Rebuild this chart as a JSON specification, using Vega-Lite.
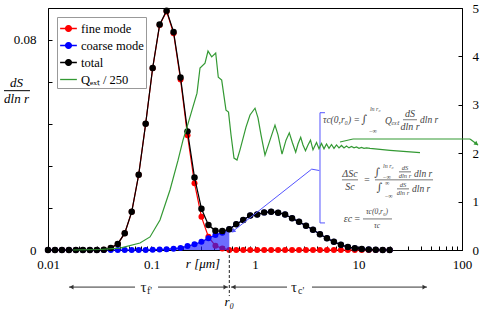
{
"$schema": "https://vega.github.io/schema/vega-lite/v6.json",
"width": 414, "height": 242,
"autosize": {"type": "none"},
"padding": {"left": 48, "top": 8, "right": 38, "bottom": 63},
"background": "white",
"config": {
  "view": {"stroke": "black", "strokeWidth": 1},
  "font": "Liberation Serif",
  "axis": {"labelFont": "Liberation Serif", "labelFontSize": 13, "labelColor": "black", "domainColor": "black", "tickColor": "black", "grid": false, "titleFont": "Liberation Serif", "labelFlush": false}
},
"datasets": {
  "psd": [
    {"r":0.01,"fine":0,"coarse":0,"total":0},
    {"r":0.01168,"fine":0,"coarse":0,"total":0},
    {"r":0.01364,"fine":0,"coarse":0,"total":0},
    {"r":0.01593,"fine":0,"coarse":0,"total":0},
    {"r":0.0186,"fine":0,"coarse":0,"total":0},
    {"r":0.02173,"fine":0,"coarse":0,"total":0},
    {"r":0.02537,"fine":0,"coarse":0,"total":0},
    {"r":0.02963,"fine":0,"coarse":0,"total":0},
    {"r":0.03461,"fine":0.0001,"coarse":0,"total":0.0001},
    {"r":0.04042,"fine":0.0008,"coarse":0,"total":0.0008},
    {"r":0.04721,"fine":0.0023,"coarse":0,"total":0.0023},
    {"r":0.05513,"fine":0.0064,"coarse":0,"total":0.0064},
    {"r":0.06439,"fine":0.0145,"coarse":0,"total":0.0145},
    {"r":0.0752,"fine":0.0286,"coarse":0,"total":0.0286},
    {"r":0.08782,"fine":0.048,"coarse":0,"total":0.048},
    {"r":0.1026,"fine":0.0691,"coarse":0.0001,"total":0.0692},
    {"r":0.1198,"fine":0.0855,"coarse":0.0002,"total":0.0857},
    {"r":0.1399,"fine":0.0907,"coarse":0.0003,"total":0.091},
    {"r":0.1634,"fine":0.0824,"coarse":0.0005,"total":0.0829},
    {"r":0.1908,"fine":0.0648,"coarse":0.0008,"total":0.0656},
    {"r":0.2228,"fine":0.0436,"coarse":0.0015,"total":0.0451},
    {"r":0.2603,"fine":0.0254,"coarse":0.0022,"total":0.0276},
    {"r":0.3039,"fine":0.0126,"coarse":0.0031,"total":0.0157},
    {"r":0.355,"fine":0.005,"coarse":0.0045,"total":0.0095},
    {"r":0.4146,"fine":0.0016,"coarse":0.0057,"total":0.0073},
    {"r":0.4832,"fine":0.0006,"coarse":0.0066,"total":0.0072},
    {"r":0.5645,"fine":0,"coarse":0.0079,"total":0.0079},
    {"r":0.6592,"fine":0,"coarse":0.0098,"total":0.0098},
    {"r":0.7699,"fine":0,"coarse":0.0114,"total":0.0114},
    {"r":0.8988,"fine":0,"coarse":0.0131,"total":0.0131},
    {"r":1.0497,"fine":0,"coarse":0.0135,"total":0.0135},
    {"r":1.226,"fine":0,"coarse":0.0143,"total":0.0143},
    {"r":1.432,"fine":0,"coarse":0.0145,"total":0.0145},
    {"r":1.672,"fine":0,"coarse":0.0142,"total":0.0142},
    {"r":1.953,"fine":0,"coarse":0.0135,"total":0.0135},
    {"r":2.281,"fine":0,"coarse":0.0121,"total":0.0121},
    {"r":2.663,"fine":0,"coarse":0.0107,"total":0.0107},
    {"r":3.111,"fine":0,"coarse":0.0092,"total":0.0092},
    {"r":3.633,"fine":0,"coarse":0.0077,"total":0.0077},
    {"r":4.242,"fine":0,"coarse":0.006,"total":0.006},
    {"r":4.955,"fine":0,"coarse":0.0045,"total":0.0045},
    {"r":5.786,"fine":0,"coarse":0.0031,"total":0.0031},
    {"r":6.758,"fine":0,"coarse":0.002,"total":0.002},
    {"r":7.892,"fine":0,"coarse":0.0011,"total":0.0011},
    {"r":9.217,"fine":0,"coarse":0.0007,"total":0.0007},
    {"r":10.75,"fine":0,"coarse":0.0004,"total":0.0004},
    {"r":12.56,"fine":0,"coarse":0.0002,"total":0.0002},
    {"r":14.67,"fine":0,"coarse":0.0001,"total":0.0001},
    {"r":17.13,"fine":0,"coarse":0,"total":0},
    {"r":20.0,"fine":0,"coarse":0,"total":0}
  ],
  "mie": [
    {"r":0.01744,"q":0},{"r":0.03179,"q":0.01},{"r":0.04963,"q":0.04},{"r":0.07743,"q":0.145},
    {"r":0.09671,"q":0.27},{"r":0.1208,"q":0.62},{"r":0.1509,"q":1.24},{"r":0.1803,"q":1.85},
    {"r":0.2015,"q":2.27},{"r":0.2203,"q":2.54},{"r":0.2462,"q":2.89},{"r":0.2752,"q":3.24},
    {"r":0.2942,"q":3.76},{"r":0.3288,"q":3.86},{"r":0.3515,"q":4.11},{"r":0.3816,"q":3.99},
    {"r":0.4172,"q":4.07},{"r":0.4419,"q":3.57},{"r":0.4767,"q":3.51},{"r":0.5246,"q":2.89},
    {"r":0.5546,"q":2.85},{"r":0.5862,"q":2.38},{"r":0.6267,"q":1.9},{"r":0.67,"q":1.86},
    {"r":0.7163,"q":2.07},{"r":0.8185,"q":2.54},{"r":0.8949,"q":2.79},{"r":1.0,"q":2.93},
    {"r":1.069,"q":2.73},{"r":1.143,"q":2.38},{"r":1.249,"q":1.96},{"r":1.396,"q":2.27},
    {"r":1.56,"q":2.58},{"r":1.668,"q":2.38},{"r":1.824,"q":1.98},{"r":1.993,"q":2.27},
    {"r":2.145,"q":2.42},{"r":2.303,"q":2.21},{"r":2.473,"q":2.02},{"r":2.603,"q":2.19},
    {"r":2.764,"q":2.33},{"r":2.909,"q":2.17},{"r":3.075,"q":2.05},{"r":3.251,"q":2.17},
    {"r":3.438,"q":2.27},{"r":3.634,"q":2.07},{"r":3.929,"q":2.22},{"r":4.154,"q":2.09},
    {"r":4.39,"q":2.2},{"r":4.642,"q":2.09},{"r":4.908,"q":2.19},{"r":5.188,"q":2.1},
    {"r":5.484,"q":2.18},{"r":5.798,"q":2.1},{"r":6.13,"q":2.17},{"r":6.479,"q":2.11},
    {"r":6.85,"q":2.16},{"r":7.242,"q":2.11},{"r":7.656,"q":2.15},{"r":8.094,"q":2.11},
    {"r":8.558,"q":2.14},{"r":9.047,"q":2.11},{"r":9.565,"q":2.13},{"r":10.11,"q":2.1},
    {"r":10.69,"q":2.12},{"r":11.3,"q":2.1},{"r":11.95,"q":2.11},{"r":12.92,"q":2.1},
    {"r":20.15,"q":2.06},{"r":39.29,"q":2.01}
  ]
},
"layer": [
  {"layer": [
    {"data": {"name": "psd"},
     "mark": {"type": "line", "strokeWidth": 1.2, "point": {"filled": true, "size": 36, "opacity": 1}},
     "encoding": {
       "x": {"field": "r", "type": "quantitative", "title": null,
             "scale": {"type": "log", "domain": [0.01, 100], "nice": false},
             "axis": {"values": [0.01,0.02,0.03,0.04,0.05,0.06,0.07,0.08,0.09,0.1,0.2,0.3,0.4,0.5,0.6,0.7,0.8,0.9,1,2,3,4,5,6,7,8,9,10,20,30,40,50,60,70,80,90,100],
                      "format": "~g",
                      "labelExpr": "abs(log(datum.value)/LN10 - round(log(datum.value)/LN10)) < 1e-6 ? datum.label : ''",
                      "tickSize": -4, "labelPadding": 12, "labelOverlap": false}},
       "y": {"field": "fine", "type": "quantitative", "title": null,
             "scale": {"domain": [0, 0.092], "nice": false, "zero": false},
             "axis": {"orient": "left", "values": [0,0.008,0.016,0.024,0.032,0.04,0.048,0.056,0.064,0.072,0.08,0.088],
                      "format": "~g",
                      "labelExpr": "abs(datum.value*25 - round(datum.value*25)) < 1e-6 ? datum.label : ''",
                      "tickSize": -4, "labelPadding": 16, "labelOverlap": false}},
       "color": {"datum": "fine mode", "type": "nominal",
                 "scale": {"domain": ["fine mode", "coarse mode", "total", "Qₑₓₜ / 250"], "range": ["#ff0000", "#0000ff", "#000000", "#339933"]},
                 "legend": {"title": null, "orient": "top-left", "offset": 9, "padding": 2, "rowPadding": 1,
                            "strokeColor": "#999999", "fillColor": "white",
                            "labelFont": "Liberation Serif", "labelFontSize": 12.5, "labelOffset": 3,
                            "symbolSize": 280, "symbolStrokeWidth": 1.3,
                            "encode": {"symbols": {"update": {
                              "shape": {"signal": "datum.index === 3 ? 'M-1,0H1' : 'M-1,0H1M-0.35,0A0.35,0.35,0,1,1,0.35,0A0.35,0.35,0,1,1,-0.35,0Z'"},
                              "fill": {"signal": "datum.index === 3 ? 'transparent' : scale('color', datum.value)"},
                              "stroke": {"signal": "scale('color', datum.value)"},
                              "strokeWidth": {"value": 1.3},
                              "opacity": {"value": 1}}}}}}
     }},
    {"data": {"name": "psd"},
     "transform": [{"filter": "datum.r <= 0.57"}],
     "mark": {"type": "area", "color": "#1f1fff", "opacity": 0.65},
     "encoding": {
       "x": {"field": "r", "type": "quantitative", "title": null},
       "y": {"field": "coarse", "type": "quantitative", "title": null, "stack": null}
     }},
    {"data": {"name": "psd"},
     "mark": {"type": "line", "strokeWidth": 1.2, "point": {"filled": true, "size": 36, "opacity": 1}},
     "encoding": {
       "x": {"field": "r", "type": "quantitative", "title": null},
       "y": {"field": "coarse", "type": "quantitative", "title": null},
       "color": {"datum": "coarse mode", "type": "nominal"}
     }},
    {"data": {"name": "psd"},
     "mark": {"type": "line", "strokeWidth": 1.2, "point": {"filled": true, "size": 42, "opacity": 1}},
     "encoding": {
       "x": {"field": "r", "type": "quantitative", "title": null},
       "y": {"field": "total", "type": "quantitative", "title": null},
       "color": {"datum": "total", "type": "nominal"}
     }},
    {"data": {"values": [
       {"r":0.01595,"r2":0.0693,"v":-0.0141},{"r":0.1156,"r2":0.5483,"v":-0.0141},
       {"r":0.5862,"r2":2.038,"v":-0.0141},{"r":3.554,"r2":45.9,"v":-0.0141}]},
     "mark": {"type": "rule", "color": "#333333", "strokeWidth": 1},
     "encoding": {"x": {"field": "r", "type": "quantitative", "title": null}, "x2": {"field": "r2"},
                  "y": {"field": "v", "type": "quantitative", "title": null}}},
    {"data": {"values": [{"r":0.01686,"v":-0.0141},{"r":0.6199,"v":-0.0141}]},
     "mark": {"type": "point", "shape": "triangle-left", "filled": true, "size": 22, "color": "#333333", "opacity": 1},
     "encoding": {"x": {"field": "r", "type": "quantitative", "title": null},
                  "y": {"field": "v", "type": "quantitative", "title": null}}},
    {"data": {"values": [{"r":0.5188,"v":-0.0141},{"r":43.42,"v":-0.0141}]},
     "mark": {"type": "point", "shape": "triangle-right", "filled": true, "size": 22, "color": "#333333", "opacity": 1},
     "encoding": {"x": {"field": "r", "type": "quantitative", "title": null},
                  "y": {"field": "v", "type": "quantitative", "title": null}}},
    {"data": {"values": [{"r":0.5645,"v":0,"v2":-0.0175}]},
     "mark": {"type": "rule", "color": "#222222", "strokeWidth": 1, "strokeDash": [3, 2]},
     "encoding": {"x": {"field": "r", "type": "quantitative", "title": null},
                  "y": {"field": "v", "type": "quantitative", "title": null}, "y2": {"field": "v2"}}},
    {"data": {"values": [{"r":0.08372,"v":-0.0141,"t":"τ"},{"r":2.381,"v":-0.0141,"t":"τ"}]},
     "mark": {"type": "text", "font": "Liberation Serif", "fontSize": 15, "align": "center", "baseline": "middle", "color": "#222222"},
     "encoding": {"x": {"field": "r", "type": "quantitative", "title": null},
                  "y": {"field": "v", "type": "quantitative", "title": null}, "text": {"field": "t"}}},
    {"data": {"values": [{"r":0.0905,"v":-0.0155,"t":"f'"},{"r":2.603,"v":-0.0155,"t":"c'"}]},
     "mark": {"type": "text", "font": "Liberation Serif", "fontSize": 10, "align": "left", "baseline": "middle", "color": "#222222"},
     "encoding": {"x": {"field": "r", "type": "quantitative", "title": null},
                  "y": {"field": "v", "type": "quantitative", "title": null}, "text": {"field": "t"}}},
    {"data": {"values": [{"r":0.3145,"v":-0.0053,"t":"r [μm]"},{"r":0.5645,"v":-0.0198,"t":"r₀"},
                          {"r":0.004962,"v":0.0636,"t":"dS"},{"r":0.004962,"v":0.0575,"t":"dln r"}]},
     "mark": {"type": "text", "font": "Liberation Serif", "fontSize": 13, "fontStyle": "italic", "align": "center", "baseline": "middle", "color": "black"},
     "encoding": {"x": {"field": "r", "type": "quantitative", "title": null},
                  "y": {"field": "v", "type": "quantitative", "title": null}, "text": {"field": "t"}}},
    {"data": {"values": [{"r":0.003757,"r2":0.0067,"v":0.06057}]},
     "mark": {"type": "rule", "color": "black", "strokeWidth": 1},
     "encoding": {"x": {"field": "r", "type": "quantitative", "title": null}, "x2": {"field": "r2"},
                  "y": {"field": "v", "type": "quantitative", "title": null}}},
    {"data": {"values": [
       {"r":0.5995,"v":0.006857,"r2":3.53,"v2":0.03074},{"r":3.53,"v":0.03074,"r2":4.181,"v2":0.03021},
       {"r":4.246,"v":0.05219,"r2":4.246,"v2":0.01029},{"r":4.246,"v":0.05219,"r2":4.746,"v2":0.05219},
       {"r":4.246,"v":0.01029,"r2":4.746,"v2":0.01029}]},
     "mark": {"type": "rule", "color": "#5555ff", "strokeWidth": 1},
     "encoding": {"x": {"field": "r", "type": "quantitative", "title": null}, "x2": {"field": "r2"},
                  "y": {"field": "v", "type": "quantitative", "title": null}, "y2": {"field": "v2"}}},
    {"data": {"values": [{"r":0.6224,"v":0.00731}]},
     "mark": {"type": "point", "shape": "triangle", "angle": 232, "filled": true, "size": 22, "color": "#5555ff", "opacity": 1},
     "encoding": {"x": {"field": "r", "type": "quantitative", "title": null},
                  "y": {"field": "v", "type": "quantitative", "title": null}}},
    {"data": {"values": [
       {"r":26.92,"r2":36.75,"v":0.04952},{"r":6.927,"r2":9.889,"v":0.02667},{"r":14.43,"r2":52.5,"v":0.02667},
       {"r":24.62,"r2":32.15,"v":0.02971},{"r":23.55,"r2":30.75,"v":0.02324},{"r":11.05,"r2":21.07,"v":0.01181}]},
     "mark": {"type": "rule", "color": "#555555", "strokeWidth": 0.8},
     "encoding": {"x": {"field": "r", "type": "quantitative", "title": null}, "x2": {"field": "r2"},
                  "y": {"field": "v", "type": "quantitative", "title": null}}},
    {"data": {"values": [{"r":4.54,"v":0.04952,"t":"τc(0,r₀) ="},{"r":18.03,"v":0.0491,"t":"Qₑₓₜ"},{"r":39.29,"v":0.04952,"t":"dln r"},
                          {"r":34.38,"v":0.02895,"t":"dln r"},{"r":32.88,"v":0.02324,"t":"dln r"}]},
     "mark": {"type": "text", "font": "Liberation Serif", "fontSize": 9.5, "fontStyle": "italic", "align": "left", "baseline": "middle", "color": "#444444"},
     "encoding": {"x": {"field": "r", "type": "quantitative", "title": null},
                  "y": {"field": "v", "type": "quantitative", "title": null}, "text": {"field": "t"}}},
    {"data": {"values": [{"r":31.45,"v":0.05181,"t":"dS"},{"r":31.45,"v":0.04686,"t":"dln r"},
                          {"r":8.277,"v":0.02895,"t":"ΔSc"},{"r":8.277,"v":0.024,"t":"Sc"},{"r":12.08,"v":0.02667,"t":"="},
                          {"r":7.915,"v":0.01181,"t":"εc"},{"r":9.672,"v":0.01181,"t":"="}]},
     "mark": {"type": "text", "font": "Liberation Serif", "fontSize": 10, "fontStyle": "italic", "align": "center", "baseline": "middle", "color": "#444444"},
     "encoding": {"x": {"field": "r", "type": "quantitative", "title": null},
                  "y": {"field": "v", "type": "quantitative", "title": null}, "text": {"field": "t"}}},
    {"data": {"values": [{"r":15.09,"v":0.01429,"t":"τc(0,r₀)"},{"r":15.09,"v":0.00914,"t":"τc"}]},
     "mark": {"type": "text", "font": "Liberation Serif", "fontSize": 7.5, "fontStyle": "italic", "align": "center", "baseline": "middle", "color": "#444444"},
     "encoding": {"x": {"field": "r", "type": "quantitative", "title": null},
                  "y": {"field": "v", "type": "quantitative", "title": null}, "text": {"field": "t"}}},
    {"data": {"values": [{"r":28.14,"v":0.03124,"t":"dS"},{"r":28.14,"v":0.02819,"t":"dln r"},
                          {"r":26.92,"v":0.02476,"t":"dS"},{"r":26.92,"v":0.02171,"t":"dln r"}]},
     "mark": {"type": "text", "font": "Liberation Serif", "fontSize": 6.5, "fontStyle": "italic", "align": "center", "baseline": "middle", "color": "#444444"},
     "encoding": {"x": {"field": "r", "type": "quantitative", "title": null},
                  "y": {"field": "v", "type": "quantitative", "title": null}, "text": {"field": "t"}}},
    {"data": {"values": [{"r":12.9,"v":0.0537,"t":"ln r₀"},{"r":12.5,"v":0.0453,"t":"−∞"},
                          {"r":17.25,"v":0.0319,"t":"ln r₀"},{"r":17.0,"v":0.0277,"t":"−∞"},
                          {"r":18.03,"v":0.0253,"t":"∞"},{"r":17.7,"v":0.0207,"t":"−∞"}]},
     "mark": {"type": "text", "font": "Liberation Serif", "fontSize": 6, "fontStyle": "italic", "align": "left", "baseline": "middle", "color": "#444444"},
     "encoding": {"x": {"field": "r", "type": "quantitative", "title": null},
                  "y": {"field": "v", "type": "quantitative", "title": null}, "text": {"field": "t"}}},
    {"data": {"values": [{"r":11.4,"v":0.04952,"t":"∫"},{"r":15.2,"v":0.02933,"t":"∫"},{"r":16.0,"v":0.02362,"t":"∫"}]},
     "mark": {"type": "text", "font": "DejaVu Serif", "fontSize": 11, "align": "center", "baseline": "middle", "color": "#444444"},
     "encoding": {"x": {"field": "r", "type": "quantitative", "title": null},
                  "y": {"field": "v", "type": "quantitative", "title": null}, "text": {"field": "t"}}}
  ]},
  {"layer": [
    {"data": {"name": "mie"},
     "mark": {"type": "line", "strokeWidth": 1.2},
     "encoding": {
       "x": {"field": "r", "type": "quantitative", "title": null},
       "y": {"field": "q", "type": "quantitative",
             "scale": {"domain": [0, 5], "nice": false},
             "axis": {"orient": "right", "values": [0,1,2,3,4,5], "tickSize": -4, "labelPadding": 14,
                      "title": "Mie kernal (Qₑₓₜ/250)", "titleColor": "#339933", "titleFontSize": 13,
                      "titleFont": "Liberation Serif", "titleFontWeight": "normal", "titleAngle": 270,
                      "titleX": 31, "titleY": 156, "titleAlign": "center", "titleBaseline": "middle"}},
       "color": {"datum": "Qₑₓₜ / 250", "type": "nominal"}
     }},
    {"data": {"values": [
       {"r":6.626,"v":2.231,"r2":8.85,"v2":2.293},{"r":8.85,"v":2.293,"r2":119.5,"v2":2.293},
       {"r":119.5,"v":2.293,"r2":142.8,"v2":2.169}]},
     "mark": {"type": "rule", "color": "#339933", "strokeWidth": 1.2},
     "encoding": {"x": {"field": "r", "type": "quantitative", "title": null}, "x2": {"field": "r2"},
                  "y": {"field": "v", "type": "quantitative", "title": null}, "y2": {"field": "v2"}}},
    {"data": {"values": [{"r":136.6,"v":2.2}]},
     "mark": {"type": "point", "shape": "triangle", "angle": 127, "filled": true, "size": 22, "color": "#339933", "opacity": 1},
     "encoding": {"x": {"field": "r", "type": "quantitative", "title": null},
                  "y": {"field": "v", "type": "quantitative", "title": null}}}
  ]}
],
"resolve": {"scale": {"y": "independent"}}
}
